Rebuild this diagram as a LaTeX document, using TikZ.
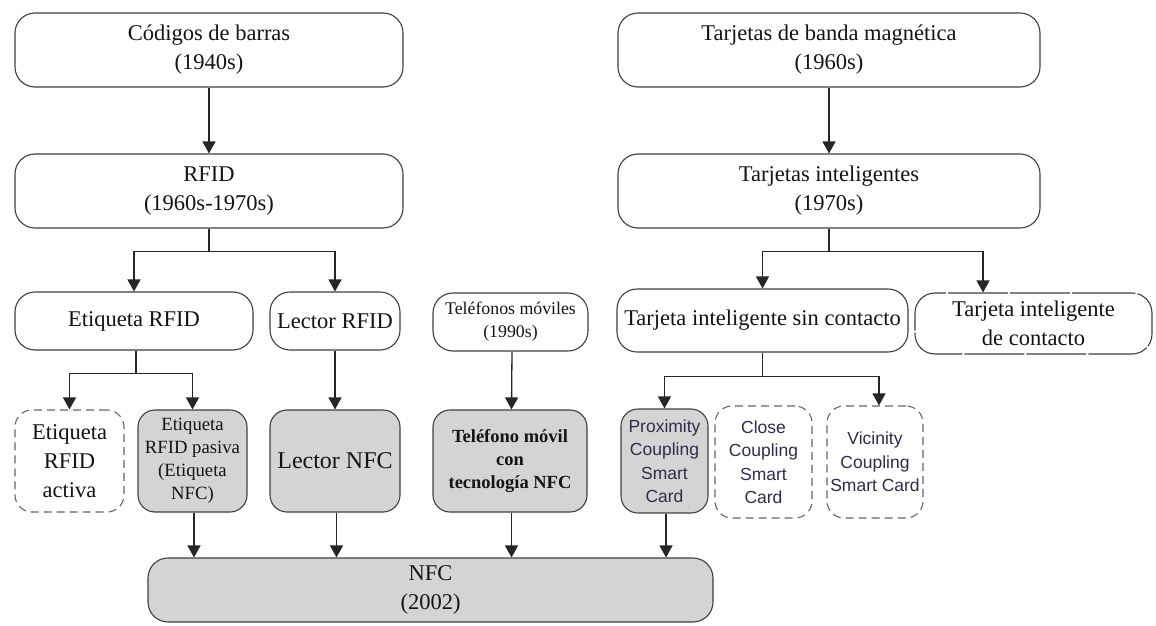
\documentclass[tikz,border=0pt]{standalone}
\usepackage{fontspec}
\setmainfont{Liberation Serif}
\newfontfamily\cardsans{Liberation Sans}
\usetikzlibrary{arrows.meta}
\definecolor{edge}{HTML}{404040}
\definecolor{wire}{HTML}{262626}
\definecolor{shade}{HTML}{D4D4D4}
\definecolor{ink}{HTML}{141414}
\definecolor{cardink}{HTML}{2E2E4A}
\tikzset{
  box/.style={draw=edge, line width=1.1pt, rounded corners=20pt, fill=white,
    inner sep=0pt, align=center, text=ink,
    font=\fontsize{22.5}{29}\selectfont},
  midbox/.style={box, rounded corners=17pt},
  grey/.style={fill=shade},
  dashedbox/.style={dash pattern=on 8pt off 5pt, draw=edge!80},
  cardtext/.style={font=\cardsans\fontsize{17.5}{23.5}\selectfont, text=cardink},
  wireline/.style={draw=wire, line width=1.3pt},
  arr/.style={wireline, -{Triangle[length=12pt,width=13pt]}}
}
\begin{document}
\begin{tikzpicture}[x=1pt,y=-1pt]
\useasboundingbox[fill=white] (0,0) rectangle (1156,626);

% first row: origins
\node[box, minimum width=388pt, minimum height=74pt] (codigos) at (209,50)
  {Códigos de barras\\(1940s)};
\node[box, minimum width=422pt, minimum height=74pt] (banda) at (829,50)
  {Tarjetas de banda magnética\\(1960s)};

% second row
\node[box, minimum width=388pt, minimum height=74pt] (rfid) at (209,191)
  {RFID\\(1960s-1970s)};
\node[box, minimum width=422pt, minimum height=74pt] (intel) at (829,191)
  {Tarjetas inteligentes\\(1970s)};

% third row
\node[box, minimum width=238pt, minimum height=58pt] (etiq) at (134,321)
  {Etiqueta RFID};
\node[box, minimum width=130pt, minimum height=58pt] (lector) at (335,321)
  {Lector RFID};
\node[box, minimum width=155pt, minimum height=58pt,
      font=\fontsize{17.8}{23}\selectfont] (moviles) at (510.5,322)
  {Teléfonos móviles\\(1990s)};
\node[box, minimum width=291pt, minimum height=63pt] (sincont) at (762.5,320.5)
  {Tarjeta inteligente sin contacto};
\node[box, minimum width=237pt, minimum height=61pt,
      dash pattern=on 60pt off 2pt] (contacto) at (1033.5,323.5)
  {Tarjeta inteligente\\de contacto};

% fourth row
\node[midbox, dashedbox, minimum width=109pt, minimum height=102pt] (activa) at (69.5,461)
  {Etiqueta\\RFID\\activa};
\node[midbox, grey, minimum width=109pt, minimum height=102pt,
      font=\fontsize{18.7}{23}\selectfont] (pasiva) at (192.5,461)
  {Etiqueta\\RFID pasiva\\(Etiqueta\\NFC)};
\node[midbox, grey, minimum width=130pt, minimum height=102pt,
      font=\fontsize{24}{29}\selectfont] (lectornfc) at (335,461)
  {Lector NFC};
\node[midbox, grey, minimum width=154pt, minimum height=102pt,
      font=\bfseries\fontsize{18.5}{23}\selectfont] (movilnfc) at (510,461)
  {Teléfono móvil\\con\\tecnología NFC};
\node[midbox, grey, cardtext, minimum width=87pt, minimum height=104pt] (prox) at (664.5,461)
  {Proximity\\Coupling\\Smart\\Card};
\node[midbox, dashedbox, cardtext, minimum width=97pt, minimum height=112pt] (close) at (763.5,462)
  {Close\\Coupling\\Smart\\Card};
\node[midbox, dashedbox, cardtext, minimum width=96pt, minimum height=112pt] (vic) at (875,462)
  {Vicinity\\Coupling\\Smart Card};

% result
\node[box, grey, minimum width=565pt, minimum height=64pt] (nfc) at (430.5,590)
  {NFC\\(2002)};

% connectors
\draw[arr] (codigos.south) -- (rfid.north);
\draw[arr] (banda.south) -- (intel.north);

\coordinate (rj) at ([yshift=-23pt]rfid.south);
\draw[arr] (rfid.south) -- (rj) -| (etiq.north);
\draw[arr] (rj) -| (lector.north);

\coordinate (ej) at ([xshift=2pt,yshift=-23pt]etiq.south);
\draw[arr] ([xshift=2pt]etiq.south) -- (ej) -| (activa.north);
\draw[arr] (ej) -| (pasiva.north);

\draw[arr] (lector.south) -- (lectornfc.north);
\draw[arr] ([xshift=1.5pt]moviles.south) -- ([xshift=1.5pt]movilnfc.north);

\coordinate (ij) at ([yshift=-23pt]intel.south);
\coordinate (ctop) at ([xshift=-50.5pt]contacto.north);
\draw[arr] (intel.south) -- (ij) -| (sincont.north);
\draw[arr] (ij) -| (ctop);

\coordinate (sj) at ([yshift=-24pt]sincont.south);
\coordinate (vtop) at ([xshift=4pt]vic.north);
\draw[arr] (sincont.south) -- (sj) -| (prox.north);
\draw[arr] (sj) -| (vtop);

\foreach \src in {pasiva, lectornfc, movilnfc, prox}
  \draw[arr] ([xshift=1.5pt]\src.south) -- ([xshift=1.5pt]\src.south |- nfc.north);
\end{tikzpicture}
\end{document}
